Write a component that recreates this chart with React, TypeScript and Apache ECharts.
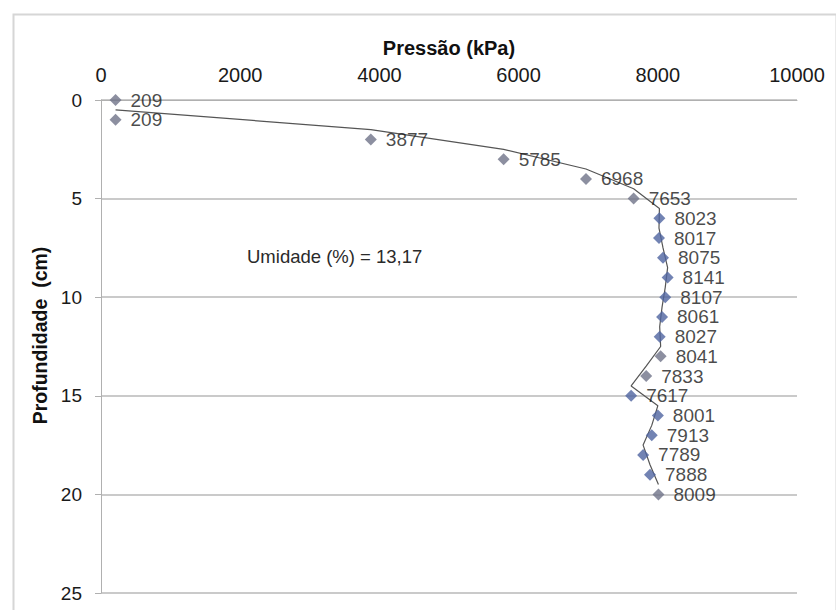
import React, { useEffect, useRef } from "react";
import * as echarts from "echarts";

const depths = [0, 1, 2, 3, 4, 5, 6, 7, 8, 9, 10, 11, 12, 13, 14, 15, 16, 17, 18, 19, 20];
const pressures = [209, 209, 3877, 5785, 6968, 7653, 8023, 8017, 8075, 8141, 8107, 8061, 8027, 8041, 7833, 7617, 8001, 7913, 7789, 7888, 8009];
const bluePoints = [6, 7, 8, 9, 10, 11, 12, 15, 16, 17, 18, 19];
const xTicks = [0, 2000, 4000, 6000, 8000, 10000];
const yTicks = [0, 5, 10, 15, 20, 25];
const annotation = "Umidade (%) = 13,17";

export default function App() {
  const ref = useRef<HTMLDivElement>(null);
  useEffect(() => {
    if (!ref.current) return;
    const chart = echarts.init(ref.current, null, { renderer: "svg" });
    const points = pressures.map((p, i) => ({
      value: [p, depths[i]],
      itemStyle: { color: bluePoints.includes(i) ? "#4f64a0" : "#6f7388" },
    }));
    // Excel-style moving average trendline (period 2)
    const trend: number[][] = [];
    for (let i = 1; i < pressures.length; i++) {
      trend.push([pressures[i], (depths[i - 1] + depths[i]) / 2]);
    }
    const font = "'Liberation Sans', Arial, sans-serif";
    chart.setOption({
      animation: false,
      backgroundColor: "#ffffff",
      grid: { left: 101, top: 100, right: 39, bottom: 17, containLabel: false },
      xAxis: {
        type: "value",
        position: "top",
        min: xTicks[0],
        max: xTicks[xTicks.length - 1],
        interval: 2000,
        name: "Pressão (kPa)",
        nameLocation: "middle",
        nameGap: 42,
        nameTextStyle: { fontFamily: font, fontWeight: "bold", fontSize: 20, color: "#111" },
        axisLine: { show: true, lineStyle: { color: "#b0b0b0", width: 1 } },
        axisTick: { show: false },
        axisLabel: {
          fontFamily: font,
          fontSize: 20,
          color: "#1a1a1a",
          margin: 15,
          formatter: (v: number) => String(v),
        },
        splitLine: { show: false },
      },
      yAxis: {
        type: "value",
        inverse: true,
        min: yTicks[0],
        max: yTicks[yTicks.length - 1],
        interval: 5,
        name: "Profundidade  (cm)",
        nameLocation: "middle",
        nameGap: 45,
        nameRotate: 90,
        nameTextStyle: { fontFamily: font, fontWeight: "bold", fontSize: 19.5, color: "#111", padding: [0, 0, 0, 22] },
        axisLine: { show: true, lineStyle: { color: "#b0b0b0", width: 1 } },
        axisTick: { show: true, inside: false, length: 6, lineStyle: { color: "#b0b0b0" } },
        axisLabel: { fontFamily: font, fontSize: 19, color: "#1a1a1a", margin: 19 },
        splitLine: { show: true, lineStyle: { color: "#b8b8b8", width: 1.5 } },
      },
      graphic: [
        {
          type: "rect",
          left: 11,
          top: 12,
          shape: { width: 823, height: 610 },
          style: { fill: "none", stroke: "#d6d6d6", lineWidth: 2 },
          silent: true,
        },
        {
          type: "text",
          x: 247,
          y: 256,
          style: {
            text: annotation,
            fontFamily: font,
            fontSize: 18.5,
            fill: "#2a2a2a",
            verticalAlign: "middle",
            align: "left",
          },
        },
      ],
      series: [
        {
          type: "line",
          data: trend,
          symbol: "none",
          lineStyle: { color: "#555555", width: 1.2 },
          z: 2,
        },
        {
          type: "scatter",
          data: points,
          symbol: "diamond",
          symbolSize: 12,
          z: 3,
          label: {
            show: true,
            position: "right",
            distance: 9,
            formatter: (p: any) => String(p.value[0]),
            fontFamily: font,
            fontSize: 19,
            lineHeight: 17,
            color: "#1a1a1a",
          },
        },
      ],
    });
    return () => chart.dispose();
  }, []);
  return (
    <div
      ref={ref}
      style={{ position: "fixed", left: 0, top: 0, width: 836, height: 610, background: "#fff" }}
    />
  );
}
